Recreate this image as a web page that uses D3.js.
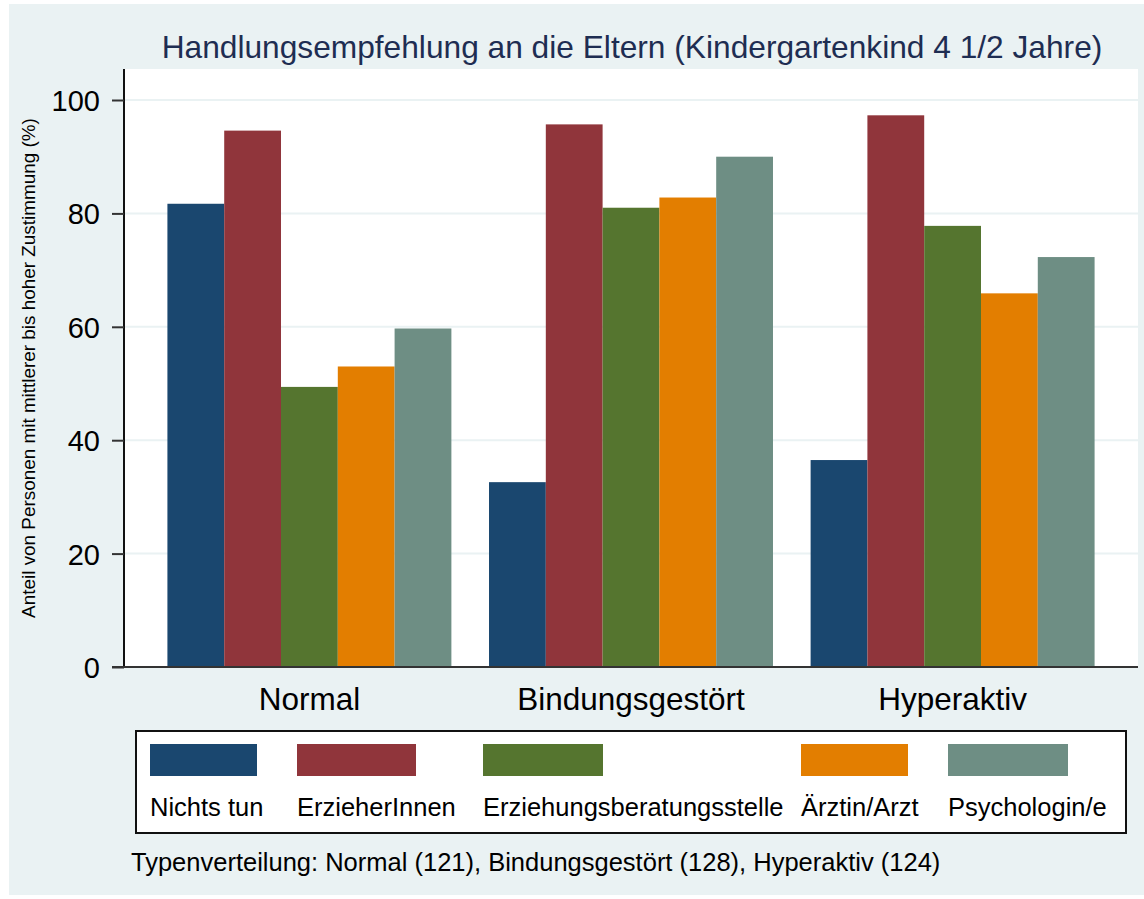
<!DOCTYPE html>
<html>
<head>
<meta charset="utf-8">
<script src="https://cdn.jsdelivr.net/npm/d3@7"></script>
<style>
  body { margin: 0; background: #fff; }
  text { font-family: Arial, "Liberation Sans", sans-serif; }
</style>
</head>
<body>
<script>
// Daten
var gruppen = ["Normal", "Bindungsgestört", "Hyperaktiv"];
var serien = ["Nichts tun", "ErzieherInnen", "Erziehungsberatungsstelle", "Ärztin/Arzt", "Psychologin/e"];
var nichtsTun = [81.7, 32.6, 36.5];
var erzieher = [94.6, 95.7, 97.3];
var beratung = [49.4, 81.0, 77.8];
var arzt = [53.0, 82.8, 65.9];
var psychologe = [59.7, 90.0, 72.3];
var yTicks = [0, 20, 40, 60, 80, 100];
var farben = ["#1a476f", "#90353b", "#55752f", "#e37e00", "#6e8e84"];

var werte = [nichtsTun, erzieher, beratung, arzt, psychologe];

var W = 1144, H = 899;
var plot = { left: 124, right: 1138, top: 69, bottom: 667 };

var svg = d3.select("body").append("svg")
    .attr("width", W)
    .attr("height", H);

// Hintergrund
svg.append("rect")
    .attr("x", 9).attr("y", 4)
    .attr("width", W - 9).attr("height", H - 8)
    .attr("fill", "#eaf2f3");

svg.append("rect")
    .attr("x", plot.left).attr("y", plot.top)
    .attr("width", plot.right - plot.left).attr("height", plot.bottom - plot.top)
    .attr("fill", "#ffffff");

// Skalen
var y = d3.scaleLinear()
    .domain([0, 100])
    .range([plot.bottom, 100]);

var x0 = d3.scaleBand()
    .domain(gruppen)
    .range([plot.left, plot.right])
    .paddingInner(0.117)
    .paddingOuter(0.135);

var x1 = d3.scaleBand()
    .domain(serien)
    .range([0, x0.bandwidth()]);

// Gitterlinien
svg.append("g")
    .selectAll("line")
    .data(yTicks.filter(d => d > 0))
    .join("line")
    .attr("x1", plot.left).attr("x2", plot.right)
    .attr("y1", d => y(d)).attr("y2", d => y(d))
    .attr("stroke", "#eaf2f3")
    .attr("stroke-width", 2);

// Balken
var gruppe = svg.append("g")
    .selectAll("g")
    .data(gruppen)
    .join("g")
    .attr("transform", d => "translate(" + x0(d) + ",0)");

gruppe.selectAll("rect")
    .data((g, i) => serien.map((s, j) => ({ serie: s, wert: werte[j][i], farbe: farben[j] })))
    .join("rect")
    .attr("x", d => x1(d.serie))
    .attr("y", d => y(d.wert))
    .attr("width", x1.bandwidth())
    .attr("height", d => y(0) - y(d.wert))
    .attr("fill", d => d.farbe);

// Y-Achse
var yAxis = svg.append("g")
    .attr("transform", "translate(" + plot.left + ",0)")
    .call(d3.axisLeft(y).tickValues(yTicks).tickSize(12).tickPadding(12));
yAxis.select(".domain").attr("d", "M0," + plot.top + "V" + plot.bottom).attr("stroke", "#111").attr("stroke-width", 2);
yAxis.selectAll(".tick line").attr("stroke", "#333").attr("stroke-width", 2);
yAxis.selectAll(".tick text")
    .attr("font-size", 29)
    .attr("fill", "#000")
    .attr("dy", "0.36em");

// X-Achse
svg.append("line")
    .attr("x1", plot.left - 12).attr("x2", plot.right)
    .attr("y1", plot.bottom).attr("y2", plot.bottom)
    .attr("stroke", "#333")
    .attr("stroke-width", 2);

var xAxis = svg.append("g")
    .attr("transform", "translate(0," + plot.bottom + ")")
    .call(d3.axisBottom(x0).tickSize(0).tickPadding(0));
xAxis.select(".domain").remove();
xAxis.selectAll(".tick text")
    .attr("font-size", 31.5)
    .attr("fill", "#000")
    .attr("dy", 0)
    .attr("y", 43);

// Titel
svg.append("text")
    .attr("x", (plot.left + plot.right) / 2 + 1)
    .attr("y", 58)
    .attr("text-anchor", "middle")
    .attr("font-size", 31.7)
    .attr("fill", "#1e2d52")
    .text("Handlungsempfehlung an die Eltern (Kindergartenkind 4 1/2 Jahre)");

// Y-Titel
svg.append("text")
    .attr("transform", "translate(35," + ((plot.top + plot.bottom) / 2) + ") rotate(-90)")
    .attr("text-anchor", "middle")
    .attr("font-size", 18.9)
    .attr("fill", "#000")
    .text("Anteil von Personen mit mittlerer bis hoher Zustimmung (%)");

// Legende
var legX = [150, 297, 483, 801, 948];
var legW = [107, 119, 120, 107, 120];
var legende = svg.append("g");
legende.append("rect")
    .attr("x", 136).attr("y", 731)
    .attr("width", 990).attr("height", 102)
    .attr("fill", "#fff")
    .attr("stroke", "#111")
    .attr("stroke-width", 2);

var eintrag = legende.selectAll("g")
    .data(serien)
    .join("g")
    .attr("transform", (d, i) => "translate(" + legX[i] + ",0)");
eintrag.append("rect")
    .attr("x", 0).attr("y", 744)
    .attr("width", (d, i) => legW[i]).attr("height", 32)
    .attr("fill", (d, i) => farben[i]);
eintrag.append("text")
    .attr("x", 0).attr("y", 816)
    .attr("font-size", 25.5)
    .attr("fill", "#000")
    .text(d => d);

// Fußnote
svg.append("text")
    .attr("x", 131).attr("y", 871)
    .attr("font-size", 25.5)
    .attr("fill", "#000")
    .text("Typenverteilung: Normal (121), Bindungsgestört (128), Hyperaktiv (124)");
</script>
</body>
</html>
